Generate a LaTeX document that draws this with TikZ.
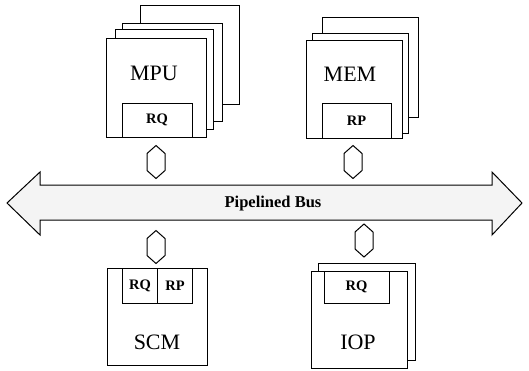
\documentclass[tikz,border=0pt]{standalone}
\usepackage{fontspec}
\setmainfont{Liberation Serif}
\begin{document}
\begin{tikzpicture}[x=1pt,y=-1pt,
  lw/.style={line width=1pt},
  card/.style={lw,draw,fill=white,inner sep=0pt,outer sep=0pt},
  queue/.style={lw,draw,fill=white,inner sep=0pt,outer sep=0pt,font=\fontsize{14.5}{16}\selectfont\bfseries},
  unitlabel/.style={inner sep=0pt,font=\fontsize{22}{24}\selectfont},
  hexlink/.style={lw,draw,fill=white,line join=miter},
  buslabel/.style={inner sep=0pt,font=\fontsize{16.5}{18}\selectfont\bfseries}]
\useasboundingbox (0,0) rectangle (529,370);

% ---------- Pipelined bus ----------
\draw[lw,fill=gray!9,line join=miter] (7,203) -- (40,172) -- (40,185) -- (492,185) -- (492,172)
  -- (522,203) -- (492,235) -- (492,220) -- (40,220) -- (40,235) -- cycle;
\node[buslabel] (bus) at (273,204) {Pipelined Bus};
\coordinate (busN1) at (156,185);
\coordinate (busN2) at (353,185);
\coordinate (busS1) at (156,220);
\coordinate (busS2) at (364,220);

% ---------- MPU stack ----------
\node[card,minimum width=99pt,minimum height=99pt] (mpu4) at (189.5,54.5) {};
\node[card,minimum width=100pt,minimum height=98pt] (mpu3) at (172,72) {};
\node[card,minimum width=98pt,minimum height=100pt] (mpu2) at (164,79) {};
\node[card,minimum width=100pt,minimum height=99pt] (mpu) at (156,87.5) {};
\node[queue,minimum width=70pt,minimum height=34pt] (mpurq) at (157,120) {RQ};
\node[unitlabel] (mputext) at (154,73) {MPU};

% ---------- MEM stack ----------
\node[card,minimum width=96pt,minimum height=100pt] (mem3) at (370,67) {};
\node[card,minimum width=96pt,minimum height=100pt] (mem2) at (360,83) {};
\node[card,minimum width=96pt,minimum height=98pt] (mem) at (354,89) {};
\node[queue,minimum width=69pt,minimum height=35pt] (memrp) at (356.5,120.5) {RP};
\node[unitlabel] (memtext) at (350,74) {MEM};

% ---------- SCM ----------
\node[card,minimum width=100pt,minimum height=97pt] (scm) at (157,316.5) {};
\node[queue,minimum width=35.5pt,minimum height=35pt] (scmrq) at (140,285.5) {RQ};
\node[queue,minimum width=34.5pt,minimum height=35pt] (scmrp) at (175,285.5) {RP};
\node[unitlabel] (scmtext) at (157,342) {SCM};

% ---------- IOP ----------
\node[card,minimum width=97pt,minimum height=97pt] (iop2) at (366.5,311.5) {};
\node[card,minimum width=96pt,minimum height=97pt] (iop) at (359,319.5) {};
\node[queue,minimum width=65pt,minimum height=32pt] (ioprq) at (356.5,287) {RQ};
\node[unitlabel] (ioptext) at (358,342) {IOP};

% ---------- hexagonal links ----------
\coordinate (h1) at (156,162);
\coordinate (h2) at (353,162);
\coordinate (h3) at (156,247);
\coordinate (h4) at (364,240.5);
\foreach \h in {h1,h2,h3,h4}{
  \draw[hexlink] (\h) ++(0,-16.5) -- ++(9,8) -- ++(0,17) -- ++(-9,8)
    -- ++(-9,-8) -- ++(0,-17) -- cycle;
}
\end{tikzpicture}
\end{document}
